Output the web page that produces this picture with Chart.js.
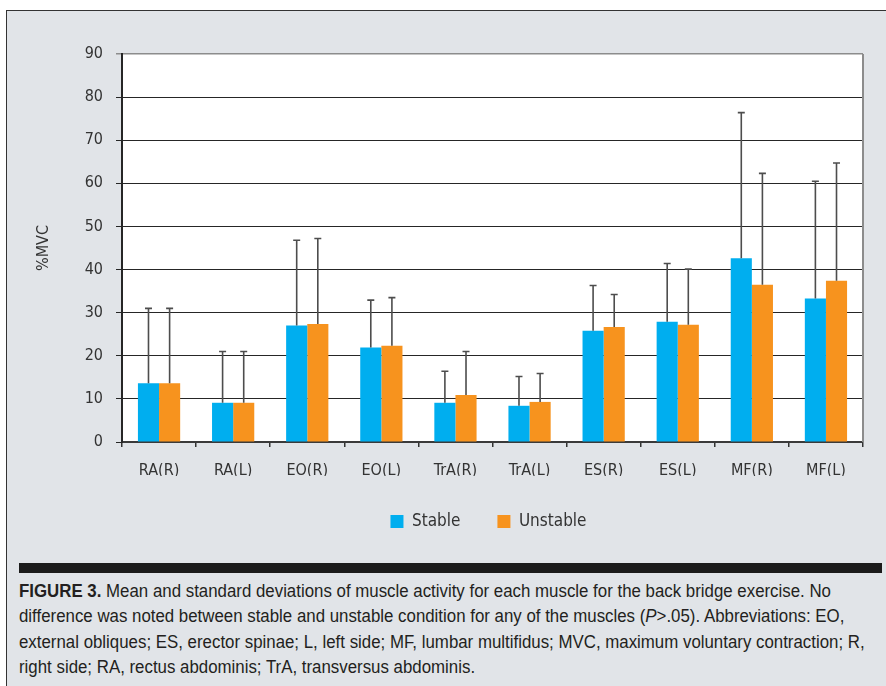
<!DOCTYPE html>
<html>
<head>
<meta charset="utf-8">
<title>Muscle activity – back bridge exercise</title>
<script src="https://cdn.jsdelivr.net/npm/chart.js@4.4.1/dist/chart.umd.min.js"></script>
<style>
  html, body { margin: 0; padding: 0; width: 886px; height: 686px; overflow: hidden; background: #ffffff; }
  #panel { position: absolute; left: 6px; top: 10px; width: 900px; height: 700px; background: #e1e4e8;
           border-top: 1.5px solid #333; border-left: 1.5px solid #333; }
  #wrap { position: absolute; left: 0; top: 0; width: 886px; height: 540px; }
  #rule { position: absolute; left: 19px; top: 563px; width: 863px; height: 10px; background: #1b1b1b; }
  #caption { position: absolute; left: 19px; top: 579px; color: #231f20; white-space: nowrap;
             font-family: 'Liberation Sans', Arial, sans-serif;
             font-size: 17.5px; line-height: 25.3px; }
  #caption div { display: block; width: max-content; transform-origin: 0 50%; }
  #caption b { font-weight: bold; }
</style>
</head>
<body>
<div id="panel"></div>
<div id="wrap"><canvas id="chart"></canvas></div>
<div id="rule"></div>
<div id="caption">
  <div><b>FIGURE 3.</b> Mean and standard deviations of muscle activity for each muscle for the back bridge exercise. No</div>
  <div>difference was noted between stable and unstable condition for any of the muscles (<i>P</i>&gt;.05). Abbreviations: EO,</div>
  <div>external obliques; ES, erector spinae; L, left side; MF, lumbar multifidus; MVC, maximum voluntary contraction; R,</div>
  <div>right side; RA, rectus abdominis; TrA, transversus abdominis.</div>
</div>
<script>
// Muscles on the x axis
const muscles = ['RA(R)', 'RA(L)', 'EO(R)', 'EO(L)', 'TrA(R)', 'TrA(L)', 'ES(R)', 'ES(L)', 'MF(R)', 'MF(L)'];

// Mean %MVC and standard deviation, stable surface
const stableMean = [13.6, 9.1, 27.0, 21.9, 9.1, 8.4, 25.8, 27.9, 42.6, 33.3];
const stableSD   = [17.4, 11.9, 19.8, 11.0, 7.3, 6.8, 10.5, 13.5, 33.8, 27.2];

// Mean %MVC and standard deviation, unstable surface
const unstableMean = [13.6, 9.1, 27.4, 22.3, 10.9, 9.3, 26.7, 27.2, 36.5, 37.4];
const unstableSD   = [17.4, 11.9, 19.8, 11.2, 10.1, 6.6, 7.5, 12.9, 25.8, 27.3];

// y axis range
const yMin = 0;
const yMax = 90;
const yStep = 10;

const FONT = "'Liberation Sans Narrow', 'DejaVu Sans Condensed', 'Roboto', sans-serif";
const TEXT = '#333333';

// Caption set in a condensed width: squeeze every line by the same factor
(function condenseCaption() {
  const lines = document.querySelectorAll('#caption div');
  const k = 812 / lines[0].getBoundingClientRect().width;
  lines.forEach((d) => { d.style.transform = 'scaleX(' + k + ')'; });
})();

// White plot background plus the grey right-hand frame line
const plotFrame = {
  id: 'plotFrame',
  beforeDraw(chart) {
    const { ctx, chartArea: a } = chart;
    ctx.save();
    ctx.fillStyle = '#ffffff';
    ctx.fillRect(a.left, a.top, a.right - a.left, a.bottom - a.top);
    ctx.restore();
  },
  afterDatasetsDraw(chart) {
    const { ctx, chartArea: a } = chart;
    ctx.save();
    ctx.strokeStyle = '#8c8c8c';
    ctx.lineWidth = 2;
    ctx.beginPath();
    ctx.moveTo(a.right, a.top);
    ctx.lineTo(a.right, a.bottom);
    ctx.stroke();
    ctx.restore();
  }
};

// Upper standard-deviation whiskers on every bar
const errorBars = {
  id: 'errorBars',
  afterDatasetsDraw(chart, args, opts) {
    const { ctx } = chart;
    const y = chart.scales.y;
    chart.data.datasets.forEach((ds, di) => {
      const meta = chart.getDatasetMeta(di);
      if (meta.hidden) return;
      meta.data.forEach((bar, i) => {
        const top = y.getPixelForValue(ds.data[i] + ds.sd[i]);
        ctx.save();
        ctx.strokeStyle = opts.color;
        ctx.lineWidth = opts.width;
        ctx.beginPath();
        ctx.moveTo(bar.x, bar.y);
        ctx.lineTo(bar.x, top);
        ctx.moveTo(bar.x - opts.cap, top);
        ctx.lineTo(bar.x + opts.cap, top);
        ctx.stroke();
        ctx.restore();
      });
    });
  }
};

// Nudge the legend so it sits centred under the plot rather than the canvas
const legendOffset = {
  id: 'legendOffset',
  afterLayout(chart, args, opts) {
    const l = chart.legend;
    if (l) { l.left += opts.dx; l.right += opts.dx; }
  }
};

new Chart(document.getElementById('chart'), {
  type: 'bar',
  data: {
    labels: muscles,
    datasets: [
      { label: 'Stable', data: stableMean, sd: stableSD, backgroundColor: '#00aeef', borderWidth: 0 },
      { label: 'Unstable', data: unstableMean, sd: unstableSD, backgroundColor: '#f7931e', borderWidth: 0 }
    ]
  },
  options: {
    responsive: true,
    maintainAspectRatio: false,
    devicePixelRatio: 1,
    animation: false,
    layout: { padding: { left: 30, top: 54, right: 23, bottom: 0 } },
    datasets: { bar: { categoryPercentage: 0.57, barPercentage: 1.0 } },
    scales: {
      x: {
        offset: true,
        grid: { display: true, drawOnChartArea: false, drawTicks: true, tickLength: 5, offset: true, color: '#333', lineWidth: 1.5 },
        border: { display: true, color: '#3a3a3a', width: 2 },
        ticks: { color: TEXT, font: { family: FONT, size: 16 }, padding: 14, maxRotation: 0 },
        afterFit(scale) { scale.height = 34; }
      },
      y: {
        min: yMin, max: yMax,
        grid: {
          color: (c) => (c.tick && c.tick.value === yMax ? '#8c8c8c' : '#262626'),
          lineWidth: (c) => (c.tick && c.tick.value === yMax ? 1.5 : 1),
          tickLength: 6, drawTicks: true
        },
        border: { display: true, color: '#262626', width: 2 },
        ticks: { stepSize: yStep, color: TEXT, font: { family: FONT, size: 16 }, padding: 13 },
        title: { display: true, text: '%MVC', color: TEXT, font: { family: FONT, size: 16 }, padding: { top: 4, bottom: 0 } },
        afterFit(scale) { scale.width = 92; }
      }
    },
    plugins: {
      legend: {
        display: true,
        position: 'bottom',
        labels: { color: TEXT, font: { family: FONT, size: 17 }, boxWidth: 13, boxHeight: 13, padding: 37 }
      },
      tooltip: { enabled: false },
      errorBars: { color: '#4d4d4d', width: 1.6, cap: 3.5 },
      legendOffset: { dx: 42 }
    }
  },
  plugins: [plotFrame, errorBars, legendOffset]
});
</script>
</body>
</html>
